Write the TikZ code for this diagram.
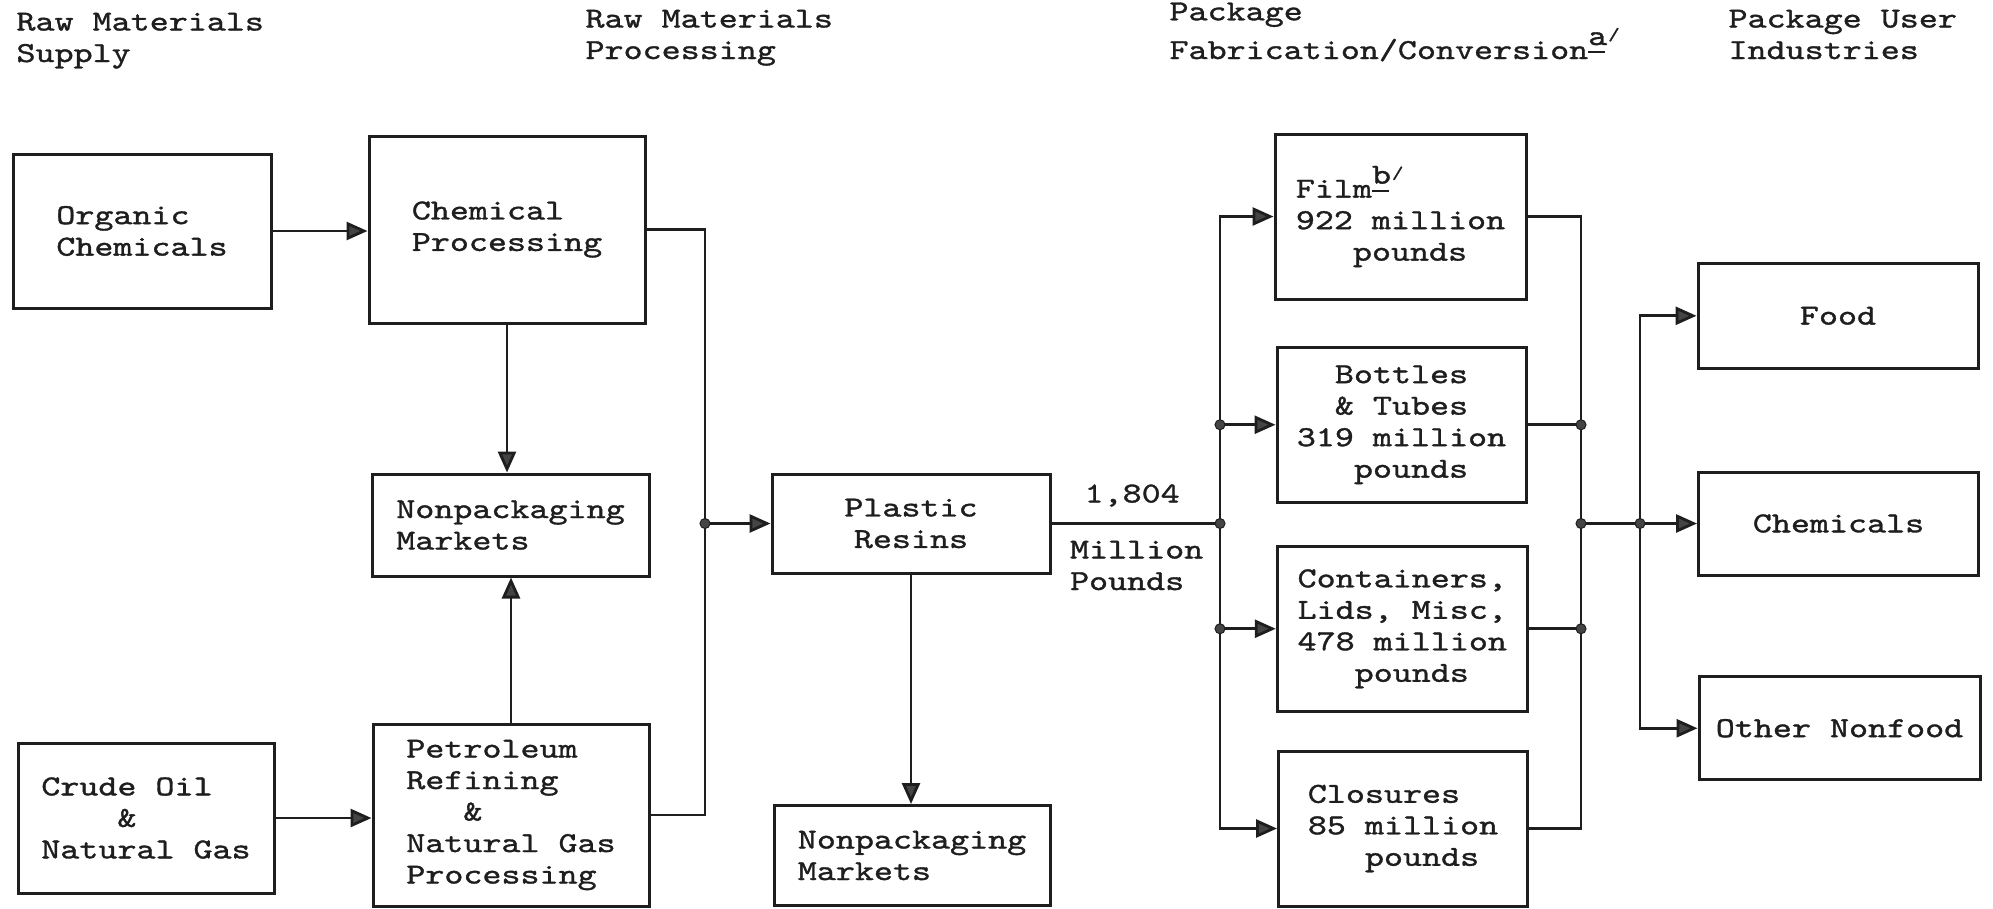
\documentclass[tikz,border=0pt]{standalone}
\usepackage{fontspec}
\usetikzlibrary{arrows.meta}
\newfontfamily\tw{lmmono10-regular}[Extension=.otf,FakeStretch=1.25,FakeBold=1.2]
\definecolor{ink}{HTML}{1E1E1E}
\definecolor{headfill}{HTML}{444444}
\newcommand\fnote[1]{\raisebox{14pt}{#1}\kern-19pt\rule[6pt]{17pt}{1.6pt}\kern3pt\raisebox{19pt}{\scalebox{0.6}{/}}}
\begin{document}
\begin{tikzpicture}[x=1pt,y=-1pt,
  txt/.style={font=\tw\fontsize{29pt}{31.5pt}\selectfont, text=ink},
  box/.style={txt, draw=ink, line width=3pt, rectangle, inner sep=0pt, align=left},
  conn/.style={draw=ink, line width=2.8pt},
  arr/.style={conn, -{Triangle[length=21pt,width=18pt,fill=headfill]}},
  dot/.style={circle, fill=headfill, draw=ink, line width=1pt, inner sep=0pt, minimum size=10pt}
]
\useasboundingbox (0,0) rectangle (1993,908);

% column headings (base = baseline of last line)
\node[txt, anchor=base west, align=left] (h1) at (13,62) {Raw Materials\\Supply};
\node[txt, anchor=base west, align=left] (h2) at (582,59) {Raw Materials\\Processing};
\node[txt, anchor=base west, align=left] (h3) at (1166,59) {Package\\Fabrication/Conversion\fnote{a}};
\node[txt, anchor=base west, align=left] (h4) at (1725,59) {Package User\\Industries};

% boxes
\node[box, minimum width=258pt, minimum height=154pt] (org) at (142,231) {Organic\\Chemicals};
\node[box, minimum width=276pt, minimum height=187pt] (chem) at (507,229.5) {Chemical\\Processing};
\node[box, minimum width=277pt, minimum height=102pt] (np1) at (510.5,525) {Nonpackaging\\Markets};
\node[box, minimum width=256pt, minimum height=150pt] (crude) at (146,818) {Crude Oil\\\hphantom{0000}\&\\Natural Gas};
\node[box, minimum width=276pt, minimum height=182pt] (pet) at (511,815) {Petroleum\\Refining\\\hphantom{000}\&\\Natural Gas\\Processing};
\node[box, align=center, minimum width=278pt, minimum height=99pt] (resin) at (911,523.5) {Plastic\\Resins};
\node[box, minimum width=276pt, minimum height=100pt] (np2) at (912,855.5) {Nonpackaging\\Markets};

\node[box, minimum width=251pt, minimum height=165pt] (film) at (1400.5,216.5) {Film\fnote{b}\\922 million\\\hphantom{000}pounds};
\node[box, minimum width=249pt, minimum height=155pt] (bottles) at (1401.5,424.75) {\hphantom{00}Bottles\\\hphantom{00}\& Tubes\\319 million\\\hphantom{000}pounds};
\node[box, minimum width=250pt, minimum height=165pt] (cont) at (1402.25,628.75) {Containers,\\Lids, Misc,\\478 million\\\hphantom{000}pounds};
\node[box, minimum width=249pt, minimum height=155pt] (clos) at (1403,828.5) {Closures\\85 million\\\hphantom{000}pounds};

\node[box, align=center, minimum width=280pt, minimum height=105pt] (food) at (1838,315.8) {Food};
\node[box, align=center, minimum width=280pt, minimum height=103pt] (chems) at (1838.5,523.5) {Chemicals};
\node[box, align=center, minimum width=281pt, minimum height=103pt] (other) at (1839.5,728.25) {Other Nonfood};

% flow labels
\node[txt, anchor=base west] (q1) at (1081,502.5) {1,804};
\node[txt, anchor=base west, align=left] (q2) at (1066.5,590) {Million\\Pounds};

% junctions
\coordinate (j1) at (705,523.5);
\coordinate (j2) at (1220,523.5);
\coordinate (j3) at (1581,523.5);
\coordinate (j4) at (1640,523.5);

% connectors
\draw[arr] (org.east) -- (org.east -| chem.west);
\draw[arr] (crude.east) -- (crude.east -| pet.west);
\draw[arr] (chem.south) -- (chem.south |- np1.north);
\draw[arr] (pet.north) -- (pet.north |- np1.south);
\draw[conn] (chem.east) -| (j1);
\draw[conn] (pet.east) -| (j1);
\draw[arr] (j1) -- (resin.west);
\draw[arr] (resin.south) -- (resin.south |- np2.north);
\draw[conn] (resin.east) -- (j2);
\draw[arr] (j2) |- (film.west);
\draw[arr] (j2) |- (clos.west);
\draw[arr] (j2 |- bottles.west) -- (bottles.west);
\draw[arr] (j2 |- cont.west) -- (cont.west);
\draw[conn] (film.east) -| (j3);
\draw[conn] (clos.east) -| (j3);
\draw[conn] (bottles.east) -- (bottles.east -| j3);
\draw[conn] (cont.east) -- (cont.east -| j3);
\draw[conn] (j3) -- (j4);
\draw[arr] (j4) -- (chems.west);
\draw[arr] (j4) |- (food.west);
\draw[arr] (j4) |- (other.west);

% dots
\node[dot] (d1) at (j1) {};
\node[dot] (d2) at (j2) {};
\node[dot] (d3) at (j3) {};
\node[dot] (d4) at (j4) {};
\node[dot] (d5) at (j2 |- bottles.west) {};
\node[dot] (d6) at (j2 |- cont.west) {};
\node[dot] (d7) at (j3 |- bottles.east) {};
\node[dot] (d8) at (j3 |- cont.east) {};
\end{tikzpicture}
\end{document}
